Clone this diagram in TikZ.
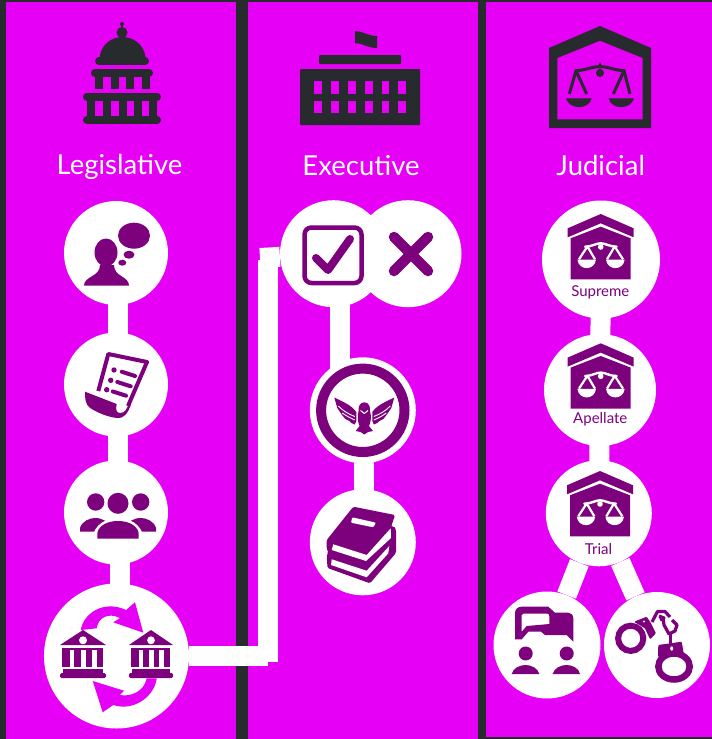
\documentclass[tikz,border=0pt]{standalone}
\usepackage{fontspec}
\setmainfont{Lato}
\definecolor{panelbg}{HTML}{E600F5}
\definecolor{darkbg}{HTML}{272B2E}
\definecolor{iconp}{HTML}{7D007D}
\tikzset{
  bubble/.style={circle,fill=white,inner sep=0pt},
  link/.style={draw=white,line width=20pt},
  head/.style={text=white,font=\fontsize{27.5}{30}\selectfont,inner sep=0pt,anchor=base},
  small/.style={text=iconp,font=\fontsize{15}{17}\selectfont,inner sep=0pt,anchor=base},
  pics/balance/.style={code={
    \draw[#1,line width=3pt,line join=round] (-30.7,9)--(-24,-14.3)--(-13.3,9) (13.3,9)--(24,-14.3)--(30,9);
    \draw[#1,line width=3pt,line cap=round] (-24,-14.3) .. controls (-12,-15) and (-8,-19) .. (0,-18) .. controls (8,-19) and (12,-15) .. (24,-14.3);
    \fill[#1] (0,-12) circle (4);
    \fill[#1] (-3,-17)--(0,-23)--(3,-17)--cycle;
    \fill[#1] (-34,13.3) .. controls (-31,25) and (-11,25) .. (-8.3,13.3) -- cycle;
    \fill[#1] (8.7,13.3) .. controls (11,25) and (31,25) .. (34,13.3) -- cycle;
  }},
  pics/minibalance/.style={code={
    \draw[white,line width=2.2pt,line join=round] (-21.7,4.3)--(-13.3,-8.5)--(-5.7,4.3) (6.3,4.3)--(14,-8.5)--(22.3,4.3);
    \draw[white,line width=2.4pt,line cap=round] (-15.7,-8.3) .. controls (-8,-8.5) and (-5,-11.7) .. (0,-11.7) .. controls (5,-11.7) and (8,-8.5) .. (16,-8.3);
    \fill[white] (0,-8) circle (2.8);
    \fill[white] (-23.3,4.5) .. controls (-22,16) and (-6,16) .. (-4.7,4.5) -- cycle;
    \fill[white] (5.3,4.5) .. controls (6.6,16) and (22.7,16) .. (24,4.5) -- cycle;
  }},
  pics/courthouse/.style={code={
    \fill[iconp] (-33,14.3)--(0,0)--(33,14.3)--(33,23.3)--(0,9.3)--(-33,23.3)--cycle;
    \fill[iconp] (-30,24.3)--(0,12.7)--(30,24.3)--(30,65.3)--(-30,65.3)--cycle;
    \pic at (0,41) {minibalance};
  }},
  pics/bank/.style={code={
    \fill[iconp] (-23,15)--(0,0)--(23,15)--cycle;
    \fill[white] (0,10.3) circle (4);
    \fill[iconp] (-21,18.3) rectangle (20,20);
    \foreach \a/\b in {-20.7/-13,-8.7/-2.3,2.7/8.7,13.7/19.7}{\fill[iconp] (\a,18.3) rectangle (\b,37.3);}
    \fill[iconp] (-20,39) rectangle (20,43);
    \fill[iconp,rounded corners=1.5pt] (-23,43) rectangle (23,48);
  }}
}
\begin{document}
\begin{tikzpicture}[x=1pt,y=-1pt]
\useasboundingbox (0,0) rectangle (712,739);
\fill[darkbg] (0,0) rectangle (712,739);
\fill[panelbg] (6,2) rectangle (236,739);
\fill[panelbg] (248,2) rectangle (478,739);
\fill[panelbg] (486,2) rectangle (712,737);

% circles
\node[bubble,minimum size=104pt] (L1) at (116,253) {};
\node[bubble,minimum size=104pt] (L2) at (116,384.5) {};
\node[bubble,minimum size=104pt] (L3) at (116,512.5) {};
\node[bubble,minimum size=145pt] (L4) at (116.5,656) {};
\node[bubble,minimum size=107pt] (E1) at (333.5,253.7) {};
\node[bubble,minimum size=107pt] (E2) at (408,253.7) {};
\node[bubble,minimum size=106pt] (E3) at (362.8,410.3) {};
\node[bubble,minimum size=106pt] (E4) at (362.8,542.3) {};
\node[bubble,minimum size=118pt] (J1) at (601,259.5) {};
\node[bubble,minimum size=112pt] (J2) at (600,390) {};
\node[bubble,minimum size=106pt] (J3) at (598.8,513.3) {};
\node[bubble,minimum size=107pt] (J4) at (547,645) {};
\node[bubble,minimum size=106pt] (J5) at (657,645) {};

% connectors
\coordinate (c1) at (268,656);
\coordinate (c2) at (268,662);
\coordinate (c3) at (268,260);
\coordinate (c4) at (260,258);
\draw[link] ([xshift=2pt]L1.center)--([xshift=2pt]L2.center);
\draw[link] ([xshift=2pt]L2.center)--([xshift=2pt]L3.center);
\draw[link] ([xshift=4pt]L3.center)--([xshift=3.5pt]L4.center);
\draw[link] (L4)--(c1);
\draw[link] (c2)--(c3);
\draw[link] (c4)--(E1);
\draw[link] ([xshift=6.5pt]E1.center)--([xshift=-22.8pt]E3.center);
\draw[link] ([xshift=1.2pt]E3.center)--([xshift=1.2pt]E4.center);
\draw[link] (J1.center)--(J2.center);
\draw[link] (J2.center)--(J3.center);
\draw[link] (J3)--(J4);
\draw[link] (J3)--(J5);

% headings
\node[head] (hL) at (119.5,174) {Legislative};
\node[head] (hE) at (361,175.7) {Executive};
\node[head] (hJ) at (600.7,175.7) {Judicial};

% capitol
\begin{scope}[darkbg]
\fill (99.5,58) .. controls (101,44) and (112,37) .. (122.5,37) .. controls (133,37) and (144,44) .. (145.7,58) -- cycle;
\fill (122,32.5) circle (5.5);
\fill (122,24) circle (2);
\fill (121,24) rectangle (123,30);
\draw[line width=8pt,line cap=round] (99,61)--(145,61);
\draw[line width=8pt,line cap=round] (95,73)--(149,73);
\draw[line width=8pt,line cap=round] (87,96.5)--(157,96.5);
\draw[line width=8pt,line cap=round] (87,120)--(157,120);
\foreach \a in {95,111,126,142}{\fill (\a,75) rectangle (\a+8,89);}
\foreach \a in {87,103,119,134,149}{\fill (\a,98) rectangle (\a+8,118);}
% executive building
\fill (355,31) .. controls (362,31) and (368,36) .. (377,36) -- (377,48) .. controls (368,48) and (362,43) .. (355,43) -- cycle;
\fill[rounded corners=1pt] (319,55) rectangle (401,64);
\fill[rounded corners=1pt] (300,69) rectangle (420,125);
% judicial icon
\fill[even odd rule] (549,48)--(600,26)--(651,48)--(651,128)--(549,128)--cycle
  (557.3,58)--(600,40.7)--(642.7,58)--(642.7,119.3)--(557.3,119.3)--cycle;
\end{scope}
\foreach \a in {314,331,348,365,381.7,398.3}{
  \fill[panelbg] (\a,81) rectangle (\a+7.5,93.7);
  \fill[panelbg] (\a,100.7) rectangle (\a+7.5,113.3);
}
\pic at (600,85) {balance=darkbg};

% thinker
\begin{scope}[iconp]
\fill (134,235.7) ellipse [x radius=16,y radius=13];
\fill (129,254.7) ellipse [x radius=5.5,y radius=4];
\fill (122.3,262.7) ellipse [x radius=4,y radius=3];
\fill (106,252.5) ellipse [x radius=11.5,y radius=14];
\fill (84,285.7) .. controls (84,276) and (100,277) .. (100,265) -- (114,265) .. controls (114,277) and (129,276) .. (129,285.7) -- cycle;
% scroll
\draw[line width=4pt,line join=round] (98.3,391)--(108.3,354)--(147,362)--(128,406);
\fill (85,391.7) -- (116.7,404) .. controls (115,410) and (117,413) .. (120,413) .. controls (125,413) and (127,409) .. (129,403) -- (131,404) .. controls (128,414) and (123,419) .. (117,418) .. controls (108,417) and (98,413) .. (90,408) .. controls (85,404) and (85,398) .. (85,391.7) -- cycle;
\foreach \x/\y/\p/\q in {114/370/121.7/135,110.7/380.3/117.3/130.7,106.7/389.7/112.7/126}{
  \fill (\x,\y) circle (2.7);
  \draw[line width=4pt,line cap=round] (\p,\y+1.7)--(\q,\y+6);
}
% people
\fill (95.7,502) circle (8.7);
\fill (118,503.3) circle (10.5);
\fill (140.7,502) circle (8.7);
\fill (97.3,538.7)--(97.3,533) .. controls (99,525) and (108,521) .. (118,521) .. controls (128,521) and (137,525) .. (138.7,533)--(138.7,538.7)--cycle;
\fill (80,531.7)--(80,528) .. controls (82,521) and (90,518) .. (95,518) .. controls (99,518) and (102,519) .. (105,520.7) .. controls (100,523) and (96,527) .. (94,531.7)--cycle;
\fill (156,531.7)--(156,528) .. controls (154,521) and (146,518) .. (141,518) .. controls (137,518) and (134,519) .. (131,520.7) .. controls (136,523) and (140,527) .. (142,531.7)--cycle;
\end{scope}

% cycle arrows
\fill[panelbg] (80.7,630) .. controls (84,612) and (105,600) .. (126,610) -- (135,602.3) -- (143.3,632.7) -- (113.3,622.3) -- (120,618) .. controls (108,612) and (98,618) .. (96.7,628.3) -- cycle;
\fill[panelbg] (156.7,678.3) .. controls (155,695) and (135,712) .. (113.3,705) -- (102.7,712.3) -- (92.7,681) -- (124,690.7) -- (120,695) .. controls (130,697) and (144,692) .. (146.7,678.3) -- cycle;
\pic at (83,630) {bank};
\pic[xscale=.96] at (151,630) {bank};

% check and cross
\draw[iconp,line width=4.5pt,rounded corners=7pt] (304.5,227.5) rectangle (361.5,283);
\draw[iconp,line width=8pt,line cap=round,line join=round] (316,258)--(328,270)--(350,239);
\draw[iconp,line width=10.5pt,line cap=round] (394,237)--(428,271);
\draw[iconp,line width=10.5pt,line cap=round] (428,237)--(394,271);

% eagle
\draw[iconp,line width=10pt] (E3.center) circle (41.7);
\foreach \s in {1,-1}{
\begin{scope}[shift={(364.3,0)},xscale=\s]
\fill[iconp] (-30,397.5) .. controls (-21,402) and (-13,405) .. (-8,412) -- (-8,421) -- (-9.5,424.5) -- (-13,423) -- (-15,421) -- (-19,419) -- (-23,414) -- (-27,408) -- cycle;
\draw[white,line width=.9pt] (-26,406) .. controls (-21,411) and (-16,414) .. (-9.5,416.5);
\draw[white,line width=.9pt] (-22,413) .. controls (-18,416) and (-14,418) .. (-9.5,420);
\end{scope}}
\fill[iconp] (364.3,402.5) circle (0pt);
\fill[iconp] (364.3,402.3) .. controls (369,402.5) and (370.5,407) .. (370,411) .. controls (371.5,416) and (371,422) .. (369,426) -- (373,431) -- (368,432) -- (364.3,434.5) -- (360.6,432) -- (355.6,431) -- (359.6,426) .. controls (357.6,422) and (357.1,416) .. (358.6,411) .. controls (358.1,407) and (359.6,402.5) .. (364.3,402.3) -- cycle;
\draw[white,line width=1pt,line join=round] (360.5,410.5)--(364.3,413.5)--(368,410.5);

% books
\fill[iconp,rounded corners=1.5pt] (353.3,506.7)--(395,515)--(391,527)--(394,526)--(396,530)--(396,553)--(370,583.3)--(327.5,568)--(326.7,555)--(328.5,552.5)--(326.7,549)--(326.7,540)--cycle;
\fill[white] (333.3,544.3)--(366.7,555)--(390.7,528.3)--(391,538)--(366,561)--(331.7,550)--cycle;
\fill[white] (331.7,559.3)--(366.7,570.7)--(389.3,546)--(388.3,553.3)--(366.7,577.3)--(331,565)--cycle;
\fill[white,rounded corners=1pt] (352.3,517.3)--(376,522.7)--(373.3,527.3)--(351,522.7)--cycle;

% courts
\pic at (600.7,214) {courthouse};
\pic at (600.7,343.3) {courthouse};
\pic at (600,471) {courthouse};
\node[small] (tS) at (600.3,296.3) {Supreme};
\node[small] (tA) at (600.3,423.5) {Apellate};
\node[small] (tT) at (598.5,554.3) {Trial};

% discussion
\begin{scope}[iconp]
\fill[even odd rule] (515,639.3)--(515,613) .. controls (515,609) and (518,606.7) .. (521.7,606.7)--(548.3,606.7)--(555,612.7)--(568.3,612.7) .. controls (571,612.7) and (573.3,615) .. (573.3,618.3)--(573.3,641.7)--(566.7,635)--(545,635)--(541,631.7)--(528.3,631.7)--(521.7,639.3)--cycle
  (521.7,615) .. controls (521.7,614) and (522.5,613.5) .. (523.5,613.5)--(547,613.5) .. controls (548.5,613.5) and (549.3,614.5) .. (549.3,616)--(549.3,624)--(526.7,626)--(521.7,631.7)--cycle;
\fill (525.7,653.5) circle (7);
\fill (566.7,653.5) circle (7);
\fill (511.7,674) .. controls (513,668) and (520,665) .. (525.5,665) .. controls (531,665) and (538,668) .. (539.3,674) -- cycle;
\fill (552.7,674) .. controls (554,668) and (561,665) .. (566.5,665) .. controls (572,665) and (579,668) .. (580,674) -- cycle;
% handcuffs
\draw[line width=6pt] (630.7,638.3) circle (12.6);
\fill[rounded corners=1pt] (634,621.7)--(646.7,616.7)--(650.7,622.7)--(656,633.3)--(650,639.3)--(645,628.3)--cycle;
\fill[white] (644,621.5) circle (1.2);
\draw[line width=6.5pt] (674,666.5) ellipse [x radius=15.7,y radius=13];
\fill[rounded corners=1pt] (658.3,645)--(681.7,641.7)--(684,655)--(658,657)--cycle;
\fill[white] (671.7,648.5) ellipse [x radius=1.5,y radius=2.2];
\draw[line width=3.2pt,line join=round] (652,622)--(657.5,611.5)--(665,611.5)--(670,617);
\draw[line width=3.2pt,line join=round] (659,616)--(664,618)--(660,620);
\draw[line width=3.2pt,line join=round] (663,617)--(664,625)--(669,634)--(675,631)--(677,625)--(672,620);
\draw[line width=3.2pt] (670.5,634)--(670.5,645);
\end{scope}
\end{tikzpicture}
\end{document}
